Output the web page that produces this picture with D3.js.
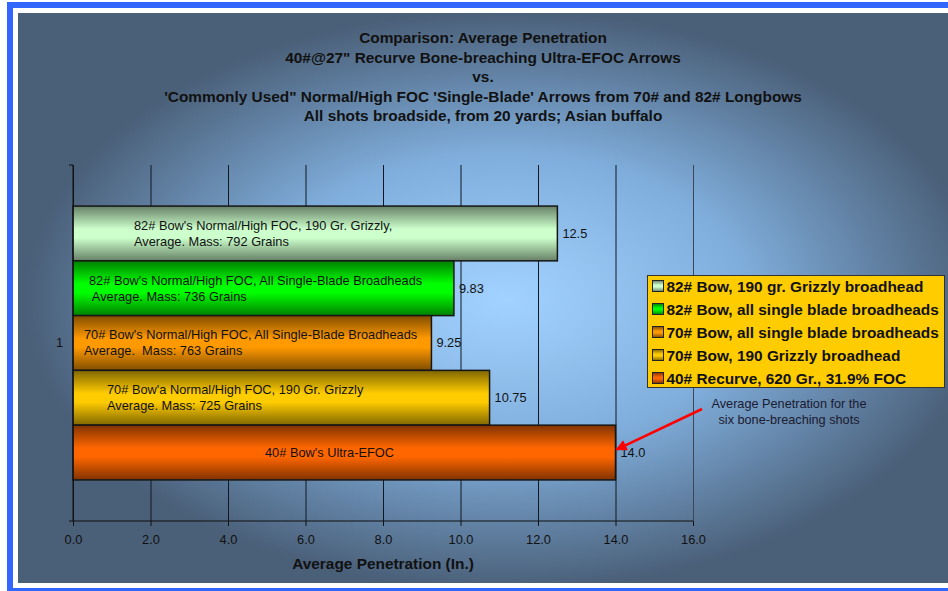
<!DOCTYPE html>
<html>
<head>
<meta charset="utf-8">
<script src="https://cdn.jsdelivr.net/npm/d3@7"></script>
<style>
  body { margin: 0; background: #fff; }
  svg { display: block; font-family: "Liberation Sans", Arial, sans-serif; }
</style>
</head>
<body>
<div id="app"></div>
<script>
// ---- data ----
const categories = ['1'];

const seriesNames = [
    '82# Bow, 190 gr. Grizzly broadhead',
    '82# Bow, all single blade broadheads',
    '70# Bow, all single blade broadheads',
    '70# Bow, 190 Grizzly broadhead',
    '40# Recurve, 620 Gr., 31.9% FOC'
];

const values = [12.5, 9.83, 9.25, 10.75, 14.0];
const valueLabels = ['12.5', '9.83', '9.25', '10.75', '14.0'];

const barLabels = [
    ["82# Bow's Normal/High FOC, 190 Gr. Grizzly,", 'Average. Mass: 792 Grains'],
    ["82# Bow's Normal/High FOC, All Single-Blade Broadheads", ' Average. Mass: 736 Grains'],
    ["70# Bow's Normal/High FOC, All Single-Blade Broadheads", 'Average.  Mass: 763 Grains'],
    ["70# Bow'a Normal/High FOC, 190 Gr. Grizzly", 'Average. Mass: 725 Grains'],
    ["40# Bow's Ultra-EFOC"]
];

const xTicks = [0, 2, 4, 6, 8, 10, 12, 14, 16];

const titleLines = [
    'Comparison: Average Penetration',
    '40#@27" Recurve Bone-breaching Ultra-EFOC Arrows',
    'vs.',
    "'Commonly Used\" Normal/High FOC 'Single-Blade' Arrows from 70# and 82# Longbows",
    'All shots broadside, from 20 yards; Asian buffalo'
];

const annotationLines = ['Average Penetration for the', 'six bone-breaching shots'];
const xTitle = 'Average Penetration (In.)';

// ---- styles ----
const colors = ['#ccffcc', '#00ff00', '#ff9900', '#ffcc00', '#ff6600'];
// where each in-bar label starts, measured from the bar's left edge
const labelInset = [61, 16, 11, 34, 192];

const width = 948;
const height = 591;
const plot = { left: 73, right: 693, top: 165, bottom: 521 };

const svg = d3.select('#app').append('svg')
    .attr('width', width)
    .attr('height', height)
    .attr('viewBox', `0 0 ${width} ${height}`);

const defs = svg.append('defs');

// background radial gradient
const bg = defs.append('radialGradient')
    .attr('id', 'bg')
    .attr('gradientUnits', 'userSpaceOnUse')
    .attr('cx', 0).attr('cy', 0).attr('r', 1)
    .attr('gradientTransform', 'translate(505,300) scale(480,290)');
bg.append('stop').attr('offset', 0).attr('stop-color', '#a2d2ff');
bg.append('stop').attr('offset', 0.5).attr('stop-color', '#80aedc');
bg.append('stop').attr('offset', 1).attr('stop-color', '#4a5f78');

// bar gradients (dark edge, light centre)
colors.forEach((c, i) => {
    const dark = d3.interpolateRgb(c, '#000')(0.5);
    const g = defs.append('linearGradient')
        .attr('id', `bar${i}`)
        .attr('x1', 0).attr('y1', 0).attr('x2', 0).attr('y2', 1);
    g.append('stop').attr('offset', 0).attr('stop-color', dark);
    g.append('stop').attr('offset', 0.42).attr('stop-color', c);
    g.append('stop').attr('offset', 0.58).attr('stop-color', c);
    g.append('stop').attr('offset', 1).attr('stop-color', dark);
});

defs.append('marker')
    .attr('id', 'arrow')
    .attr('viewBox', '0 0 10 10')
    .attr('refX', 9).attr('refY', 5)
    .attr('markerWidth', 4.5).attr('markerHeight', 4.5)
    .attr('orient', 'auto')
    .append('path')
    .attr('d', 'M0,0 L10,5 L0,10 z')
    .attr('fill', '#ff0000');

// frame
svg.append('rect').attr('x', 7).attr('y', 2).attr('width', 960).attr('height', 600).attr('fill', '#3366ff');
svg.append('rect').attr('x', 13).attr('y', 8).attr('width', 960).attr('height', 580).attr('fill', '#ffffff');
svg.append('rect').attr('x', 18).attr('y', 13).attr('width', 960).attr('height', 570).attr('fill', 'url(#bg)');

// scales
const xScale = d3.scaleLinear()
    .domain([0, 16])
    .range([plot.left, plot.right]);

const yScale = d3.scaleBand()
    .domain(categories)
    .range([plot.top, plot.bottom])
    .paddingInner(0)
    .paddingOuter(0.15);

const ySeries = d3.scaleBand()
    .domain(seriesNames)
    .range([0, yScale.bandwidth()]);

// gridlines
const grid = svg.append('g')
    .attr('transform', `translate(0, ${plot.bottom})`)
    .call(d3.axisBottom(xScale).tickValues(xTicks).tickSize(-(plot.bottom - plot.top)).tickFormat(''));
grid.select('.domain').remove();
grid.selectAll('.tick line')
    .attr('stroke', d => d === 16 ? '#3c4658' : '#111822')
    .attr('stroke-width', 1);

// bars
const rows = seriesNames.map((name, i) => ({ name, value: values[i], i }));

const barLayer = svg.append('g');
const bars = barLayer.selectAll('g')
    .data(rows)
    .join('g')
    .attr('transform', d => `translate(0, ${yScale('1') + ySeries(d.name)})`);

bars.append('rect')
    .attr('x', xScale(0))
    .attr('y', 0)
    .attr('width', d => xScale(d.value) - xScale(0))
    .attr('height', ySeries.bandwidth())
    .attr('fill', d => `url(#bar${d.i})`)
    .attr('stroke', '#161616')
    .attr('stroke-width', 1.5);

// labels inside bars
bars.each(function (d) {
    const g = d3.select(this);
    const lines = barLabels[d.i];
    const cy = ySeries.bandwidth() / 2;
    const lh = 16;
    const t = g.append('text')
        .attr('font-size', '12.8px')
        .attr('fill', '#111')
        .attr('xml:space', 'preserve');
    lines.forEach((line, k) => {
        t.append('tspan')
            .attr('x', xScale(0) + labelInset[d.i])
            .attr('y', cy + (k - (lines.length - 1) / 2) * lh)
            .attr('dy', '0.35em')
            .text(line);
    });
    g.append('text')
        .attr('x', xScale(d.value) + 5)
        .attr('y', cy)
        .attr('dy', '0.35em')
        .attr('font-size', '12.8px')
        .attr('fill', '#111')
        .text(valueLabels[d.i]);
});

// x axis
const xAxis = svg.append('g')
    .attr('transform', `translate(0, ${plot.bottom})`)
    .call(d3.axisBottom(xScale).tickValues(xTicks).tickSize(5).tickPadding(9).tickFormat(d3.format('.1f')));
xAxis.select('.domain').attr('stroke', '#111').attr('d', `M${plot.left},0H${plot.right}`);
xAxis.selectAll('.tick line').attr('stroke', '#111');
xAxis.selectAll('text').attr('fill', '#111').attr('font-size', '12.8px').attr('font-family', null);

// y axis
const yAxis = svg.append('g')
    .attr('transform', `translate(${plot.left}, 0)`)
    .call(d3.axisLeft(yScale).tickSize(0).tickPadding(10));
yAxis.select('.domain').attr('stroke', '#111').attr('d', `M0,${plot.top}V${plot.bottom}`);
yAxis.selectAll('text').attr('fill', '#111').attr('font-size', '12.8px').attr('font-family', null);
yAxis.selectAll('.edge')
    .data(yScale.range())
    .join('line')
    .attr('class', 'edge')
    .attr('x1', -4).attr('x2', 0)
    .attr('y1', d => d).attr('y2', d => d)
    .attr('stroke', '#111');

// axis title
svg.append('text')
    .attr('x', (plot.left + plot.right) / 2)
    .attr('y', 569)
    .attr('text-anchor', 'middle')
    .attr('font-size', '15.4px')
    .attr('font-weight', 'bold')
    .attr('fill', '#111')
    .text(xTitle);

// title
svg.append('g')
    .selectAll('text')
    .data(titleLines)
    .join('text')
    .attr('x', 483)
    .attr('y', (d, i) => 43 + i * 19.5)
    .attr('text-anchor', 'middle')
    .attr('font-size', '15.4px')
    .attr('font-weight', 'bold')
    .attr('fill', '#111')
    .text(d => d);

// legend
const legend = svg.append('g').attr('transform', 'translate(647.5, 275.5)');
legend.append('rect')
    .attr('width', 297)
    .attr('height', 112)
    .attr('fill', '#ffcc00')
    .attr('stroke', '#333');

const items = legend.selectAll('g.item')
    .data(seriesNames)
    .join('g')
    .attr('class', 'item')
    .attr('transform', (d, i) => `translate(5, ${10.5 + i * 23})`);
items.append('rect')
    .attr('x', 0).attr('y', -5.5)
    .attr('width', 11).attr('height', 11)
    .attr('fill', (d, i) => `url(#bar${i})`)
    .attr('stroke', '#222');
items.append('text')
    .attr('x', 14)
    .attr('dy', '0.36em')
    .attr('font-size', '15.4px')
    .attr('font-weight', 'bold')
    .attr('fill', '#111')
    .text(d => d);

// annotation + arrow to the 40# bar
const last = rows[rows.length - 1];
const tipX = xScale(last.value) + 1;
const tipY = yScale('1') + ySeries(last.name) + ySeries.bandwidth() / 2 - 3;

svg.append('g')
    .selectAll('text')
    .data(annotationLines)
    .join('text')
    .attr('x', 789)
    .attr('y', (d, i) => 404 + i * 15.5)
    .attr('dy', '0.35em')
    .attr('text-anchor', 'middle')
    .attr('font-size', '12.7px')
    .attr('fill', '#1a1a30')
    .text(d => d);

svg.append('line')
    .attr('x1', 702).attr('y1', 409)
    .attr('x2', tipX).attr('y2', tipY)
    .attr('stroke', '#ff0000')
    .attr('stroke-width', 2.5)
    .attr('marker-end', 'url(#arrow)');
</script>
</body>
</html>
